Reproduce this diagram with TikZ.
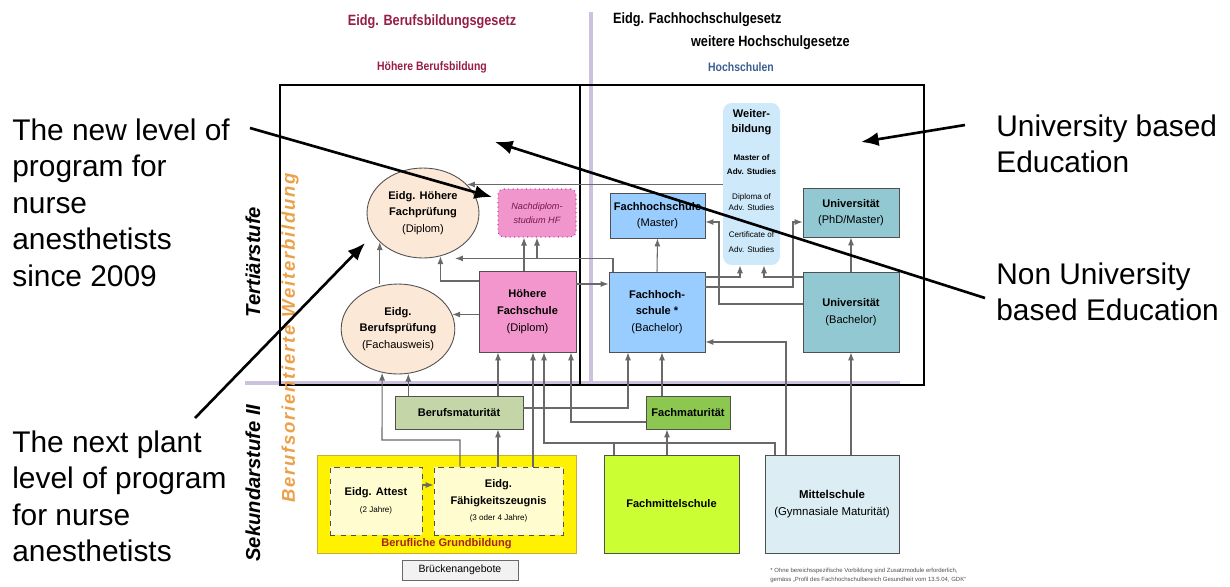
\documentclass[tikz,border=0pt]{standalone}
\usepackage{fontspec}
\setmainfont{Liberation Sans}
\newfontfamily\narrowfont[FakeStretch=0.85]{Liberation Sans}
\newfontfamily\spacedfont[LetterSpace=10]{Liberation Sans}
\usetikzlibrary{arrows.meta,shapes.geometric}
\definecolor{linkgray}{RGB}{105,105,105}
\definecolor{edgegray}{RGB}{80,80,80}
\definecolor{lavender}{RGB}{204,194,222}
\definecolor{lawred}{RGB}{150,30,70}
\definecolor{hsblue}{RGB}{60,95,145}
\definecolor{peach}{RGB}{252,232,214}
\definecolor{hfspink}{RGB}{243,150,206}
\definecolor{ndspink}{RGB}{240,150,205}
\definecolor{ndsedge}{RGB}{200,60,150}
\definecolor{ndstext}{RGB}{120,20,80}
\definecolor{fhblue}{RGB}{153,204,255}
\definecolor{wbblue}{RGB}{206,234,250}
\definecolor{uniteal}{RGB}{146,200,210}
\definecolor{bmgreen}{RGB}{196,214,168}
\definecolor{fmgreen}{RGB}{140,200,80}
\definecolor{ygold}{RGB}{200,175,60}
\definecolor{cream}{RGB}{255,253,208}
\definecolor{lime}{RGB}{204,255,51}
\definecolor{msblue}{RGB}{220,238,244}
\definecolor{bridgegray}{RGB}{242,242,242}
\definecolor{orangetxt}{RGB}{236,160,72}
\definecolor{gbred}{RGB}{165,35,30}

\begin{document}
\begin{tikzpicture}[x=0.02cm,y=-0.02cm,
    link/.style={draw=linkgray,line width=0.6pt,-{Latex[length=4.5pt,width=3.4pt]}},
    wire/.style={draw=linkgray,line width=0.6pt},
    pointer/.style={line width=1.5pt,-{Latex[length=10pt,width=8pt]}},
    unit/.style={draw=edgegray,line width=0.5pt,align=center,inner sep=1pt,
      font=\fontsize{6.3}{9.5}\selectfont},
    oval/.style={unit,ellipse,fill=peach},
    law/.style={font=\narrowfont\bfseries\fontsize{8.5}{10}\selectfont},
    sector/.style={font=\narrowfont\bfseries\fontsize{7}{8}\selectfont},
    stage/.style={rotate=90,font=\bfseries\itshape\fontsize{11.5}{12}\selectfont},
    note/.style={align=left,inner sep=0pt,anchor=north west,
      font=\fontsize{17}{20.8}\selectfont}]

  \useasboundingbox[fill=white] (0,0) rectangle (1230,586);

  % headings
  \node[law,text=lawred] (bbg) at (432,22) {Eidg. Berufsbildungsgesetz};
  \node[law,anchor=west] (fhg) at (607,20) {Eidg. Fachhochschulgesetz};
  \node[law,anchor=east] (hsg) at (856,43) {weitere Hochschulgesetze};
  \node[sector,text=lawred] (hbb) at (432,67) {Höhere Berufsbildung};
  \node[sector,text=hsblue] (hs) at (741,67) {Hochschulen};

  % frames
  \draw[lavender,line width=2.8pt] (591,12) -- (591,383);
  \draw[lavender,line width=2.8pt] (245,383) -- (900,383);
  \draw[line width=1.1pt] (280,85) rectangle (580,385);
  \draw[line width=1.1pt] (580,85) rectangle (924,385);

  \node[stage] (tert) at (253,262) {Tertiärstufe};
  \node[stage] (sek) at (253,483) {Sekundarstufe II};
  \node[rotate=90,text=orangetxt,font=\spacedfont\bfseries\itshape\fontsize{10.5}{12}\selectfont]
    (bow) at (290,338) {Berufsorientierte Weiterbildung};

  % tertiary level
  \node[oval,minimum width=2.24cm,minimum height=1.8cm] (hfp) at (423,213)
    {\textbf{Eidg. Höhere}\\\textbf{Fachprüfung}\\(Diplom)};
  \node[oval,minimum width=2.24cm,minimum height=1.8cm] (bp) at (398,329)
    {\textbf{Eidg.}\\\textbf{Berufsprüfung}\\(Fachausweis)};
  \node[unit,draw=ndsedge,dotted,line width=0.7pt,rounded corners=3pt,fill=ndspink,
    text=ndstext,font=\itshape\fontsize{5.2}{8}\selectfont,
    minimum width=1.56cm,minimum height=0.96cm] (nds) at (537,213) {Nachdiplom-\\studium HF};
  \node[unit,fill=hfspink,minimum width=1.94cm,minimum height=1.62cm] (hfs) at (527.5,311.5)
    {\textbf{Höhere}\\\textbf{Fachschule}\\(Diplom)};
  \node[unit,fill=fhblue,minimum width=1.9cm,minimum height=0.9cm] (fhm) at (657.5,215.5)
    {\textbf{Fachhochschule}\\(Master)};
  \node[unit,fill=fhblue,minimum width=1.92cm,minimum height=1.6cm] (fhb) at (657,312)
    {\textbf{Fachhoch-}\\\textbf{schule *}\\(Bachelor)};
  \node[fill=wbblue,rounded corners=5pt,minimum width=1.14cm,minimum height=3.24cm] (wb) at (751.5,184) {};
  \node[align=center,font=\bfseries\fontsize{6.3}{8.5}\selectfont] (wbhead) at (751.5,122) {Weiter-\\bildung};
  \node[align=center,font=\bfseries\fontsize{4.6}{7.9}\selectfont] (wbmas) at (751.5,165) {Master of\\Adv. Studies};
  \node[align=center,font=\fontsize{4.6}{6.3}\selectfont] (wbdip) at (751.5,202.5) {Diploma of\\Adv. Studies};
  \node[align=center,font=\fontsize{4.6}{8.5}\selectfont] (wbcert) at (751.5,242.5) {Certificate of\\Adv. Studies};
  \node[unit,fill=uniteal,minimum width=1.92cm,minimum height=0.98cm] (uphd) at (851,212.5)
    {\textbf{Universität}\\(PhD/Master)};
  \node[unit,fill=uniteal,minimum width=1.92cm,minimum height=1.6cm] (ub) at (851,312)
    {\textbf{Universität}\\(Bachelor)};

  % secondary level
  \node[unit,fill=bmgreen,minimum width=2.56cm,minimum height=0.66cm] (bm) at (459,412.5) {\textbf{Berufsmaturität}};
  \node[unit,fill=fmgreen,minimum width=1.68cm,minimum height=0.66cm] (fm) at (688,412.5) {\textbf{Fachmaturität}};
  \node[unit,draw=ygold,fill=yellow,minimum width=5.18cm,minimum height=1.96cm] (bg) at (446.5,504) {};
  \node[text=gbred,font=\bfseries\fontsize{6.3}{8}\selectfont] (bglabel) at (446.5,544) {Berufliche Grundbildung};
  \node[unit,dashed,fill=cream,minimum width=1.84cm,minimum height=1.36cm] (att) at (376,501)
    {\textbf{Eidg. Attest}\\{\fontsize{4.6}{8}\selectfont(2 Jahre)}};
  \node[unit,dashed,fill=cream,minimum width=2.58cm,minimum height=1.36cm] (efz) at (498.5,501)
    {\textbf{Eidg.}\\\textbf{Fähigkeitszeugnis}\\{\fontsize{4.6}{8}\selectfont(3 oder 4 Jahre)}};
  \node[unit,draw=linkgray,fill=bridgegray,font=\fontsize{6}{8}\selectfont,
    minimum width=2.32cm,minimum height=0.4cm] (ba) at (460,570) {Brückenangebote};
  \node[unit,fill=lime,minimum width=2.7cm,minimum height=1.96cm] (fms) at (671.5,504) {\textbf{Fachmittelschule}};
  \node[unit,fill=msblue,font=\fontsize{6.5}{9.5}\selectfont,minimum width=2.68cm,minimum height=1.96cm]
    (ms) at (832,504) {\textbf{Mittelschule}\\(Gymnasiale Maturität)};

  \node[anchor=west,inner sep=0pt,text=edgegray,font=\fontsize{3.4}{4}\selectfont] (fn1) at (770,571)
    {* Ohne bereichsspezifische Vorbildung sind Zusatzmodule erforderlich,};
  \node[anchor=west,inner sep=0pt,text=edgegray,font=\fontsize{3.4}{4}\selectfont] (fn2) at (770,580)
    {gemäss „Profil des Fachhochschulbereich Gesundheit vom 13.5.04, GDK“};

  % pathways
  \draw[link] (wb.west |- hfp.33) -- (hfp.33);
  \draw[link] (fhb.north -| 613,0) |- (hfp.south -| 455,0);
  \draw[link] (537,0 |- hfp.south) -- (537,0 |- nds.south);
  \draw[link] (bp.north -| hfp.214) -- (hfp.214);
  \draw[link] (hfs.west |- 0,281) -| (hfp.292);
  \draw[link] (hfs.west |- bp.15) -- (bp.15);
  \draw[link] (hfs.north -| 524,0) -- (nds.south -| 524,0);
  \draw[link] (hfs.east |- 0,284) -- (fhb.west |- 0,284);
  \draw[link] (fhb.north) -- (fhm.south);
  \draw[link] (fhb.east |- 0,277) -| (wb.south -| 740,0);
  \draw[link] (fhb.east |- 0,287) -| (793,222) -- (uphd.west |- 0,222);
  \draw[link] (ub.west |- 0,304) -| (719,222) -- (fhm.east |- 0,222);
  \draw[link] (ub.west |- 0,277) -| (wb.south -| 764,0);
  \draw[link] (ub.north) -- (uphd.south);
  \draw[link] (ms.north -| ub.south) -- (ub.south);
  \draw[link] (ms.north -| 786,0) |- (fhb.east |- 0,342);
  \draw[link] (ms.north -| 775,0) |- (544,443) -- (hfs.south -| 544,0);
  \draw[wire] (fms.north -| 614,0) -- (614,443);
  \draw[link] (fm.west |- 0,422) -| (hfs.south -| 571,0);
  \draw[link] (bm.east |- 0,408) -| (fhb.south -| 628,0);
  \draw[link] (fm.north -| 662,0) -- (fhb.south -| 662,0);
  \draw[link] (fms.north -| 667,0) -- (fm.south -| 667,0);
  \draw[link] (bm.north -| 498,0) -- (hfs.south -| 498,0);
  \draw[link] (efz.north -| 533,0) -- (hfs.south -| 533,0);
  \draw[link] (bm.north -| bp.283) -- (bp.283);
  \draw[link] (efz.north -| 460,0) |- (382,440) -- (bp.250);
  \draw[link] (efz.north -| 498,0) -- (bm.south -| 498,0);
  \draw[link] (att.east |- 0,485) -- (efz.west |- 0,485);

  % annotations
  \node[note] (newlevel) at (12,118) {The new level of\\program for\\nurse\\anesthetists\\since 2009};
  \node[note] (nextlevel) at (12,430) {The next plant\\level of program\\for nurse\\anesthetists};
  \node[note] (unibased) at (996,114) {University based\\Education};
  \node[note] (nonuni) at (996,262) {Non University\\based Education};
  \coordinate (newtail) at (250,128);
  \coordinate (newtip) at (492,197);
  \coordinate (nexttail) at (195,418);
  \coordinate (nexttip) at (365,243);
  \coordinate (unitail) at (965,125);
  \coordinate (unitip) at (861,142);
  \coordinate (nonunitail) at (985,298);
  \coordinate (nonunitip) at (495,142);
  \draw[pointer] (newtail) -- (newtip);
  \draw[pointer] (nexttail) -- (nexttip);
  \draw[pointer] (unitail) -- (unitip);
  \draw[pointer] (nonunitail) -- (nonunitip);
\end{tikzpicture}
\end{document}
